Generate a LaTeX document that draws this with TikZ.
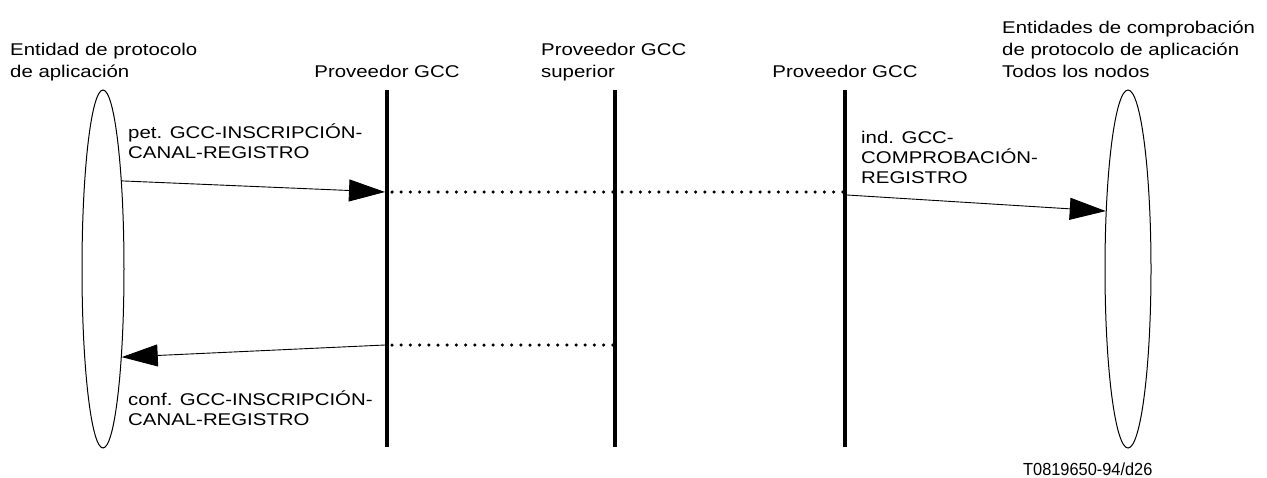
\documentclass[tikz,border=0pt]{standalone}
\usepackage{fontspec}
\setmainfont[FakeStretch=1.2]{Liberation Sans}
\newfontfamily\reffont[FakeStretch=0.935]{Liberation Sans}
\usetikzlibrary{shapes.geometric,arrows.meta}
\begin{document}
\begin{tikzpicture}[x=1pt,y=-1pt,
  lbl/.style={inner sep=0pt,align=left,font=\fontsize{17}{20}\selectfont},
  hdr/.style={inner sep=0pt,align=left,font=\fontsize{17}{22}\selectfont},
  entity/.style={draw,ellipse,line width=1pt,inner sep=0pt},
  lifeline/.style={line width=4pt},
  msg/.style={line width=0.9pt,-{Triangle[length=36pt,width=22pt]}},
  dots/.style={line width=3.5pt,line cap=round,dash pattern=on 0pt off 9.2pt}]
\useasboundingbox (0,0) rectangle (1267,477);
% entities
\node[entity,minimum width=42pt,minimum height=358pt] (A) at (103,269) {};
\node[entity,minimum width=46pt,minimum height=358pt] (B) at (1128,269) {};
% lifelines
\coordinate (L1t) at (387,90); \coordinate (L1b) at (387,447);
\coordinate (L2t) at (615,90); \coordinate (L2b) at (615,447);
\coordinate (L3t) at (845,90); \coordinate (L3b) at (845,447);
\draw[lifeline] (L1t) -- (L1b);
\draw[lifeline] (L2t) -- (L2b);
\draw[lifeline] (L3t) -- (L3b);
% message points
\coordinate (P1) at (385,192);
\coordinate (Q1) at (392,192);
\coordinate (Q3) at (843,192);
\coordinate (P3) at (847,195);
\coordinate (R1) at (385,345);
\coordinate (S1) at (392,345);
\coordinate (S2) at (613,345);
% messages
\draw[msg] (A.78.8) -- (P1);
\draw[dots] (Q1) -- (Q3);
\draw[msg] (P3) -- (B.111.4);
\draw[msg] (R1) -- (A.-78.3);
\draw[dots] (S1) -- (S2);
% headers
\node[hdr,anchor=base west] (h1) at (10,77) {Entidad de protocolo\\de aplicación};
\node[hdr,anchor=base] (h2) at (387,77) {Proveedor GCC};
\node[hdr,anchor=base west] (h3) at (541,77) {Proveedor GCC\\superior};
\node[hdr,anchor=base] (h4) at (845,77) {Proveedor GCC};
\node[hdr,anchor=base west] (h5) at (1002,77) {Entidades de comprobación\\de protocolo de aplicación\\Todos los nodos};
% labels
\node[lbl,anchor=base west] (m1) at (128,158) {pet. GCC-INSCRIPCIÓN-\\CANAL-REGISTRO};
\node[lbl,anchor=base west] (m2) at (861,183) {ind. GCC-\\COMPROBACIÓN-\\REGISTRO};
\node[lbl,anchor=base west] (m3) at (128,425) {conf. GCC-INSCRIPCIÓN-\\CANAL-REGISTRO};
\node[inner sep=0pt,anchor=base west,font=\reffont\fontsize{17.5}{20}\selectfont] (ref) at (1023,475.5) {T0819650-94/d26};
\end{tikzpicture}
\end{document}
